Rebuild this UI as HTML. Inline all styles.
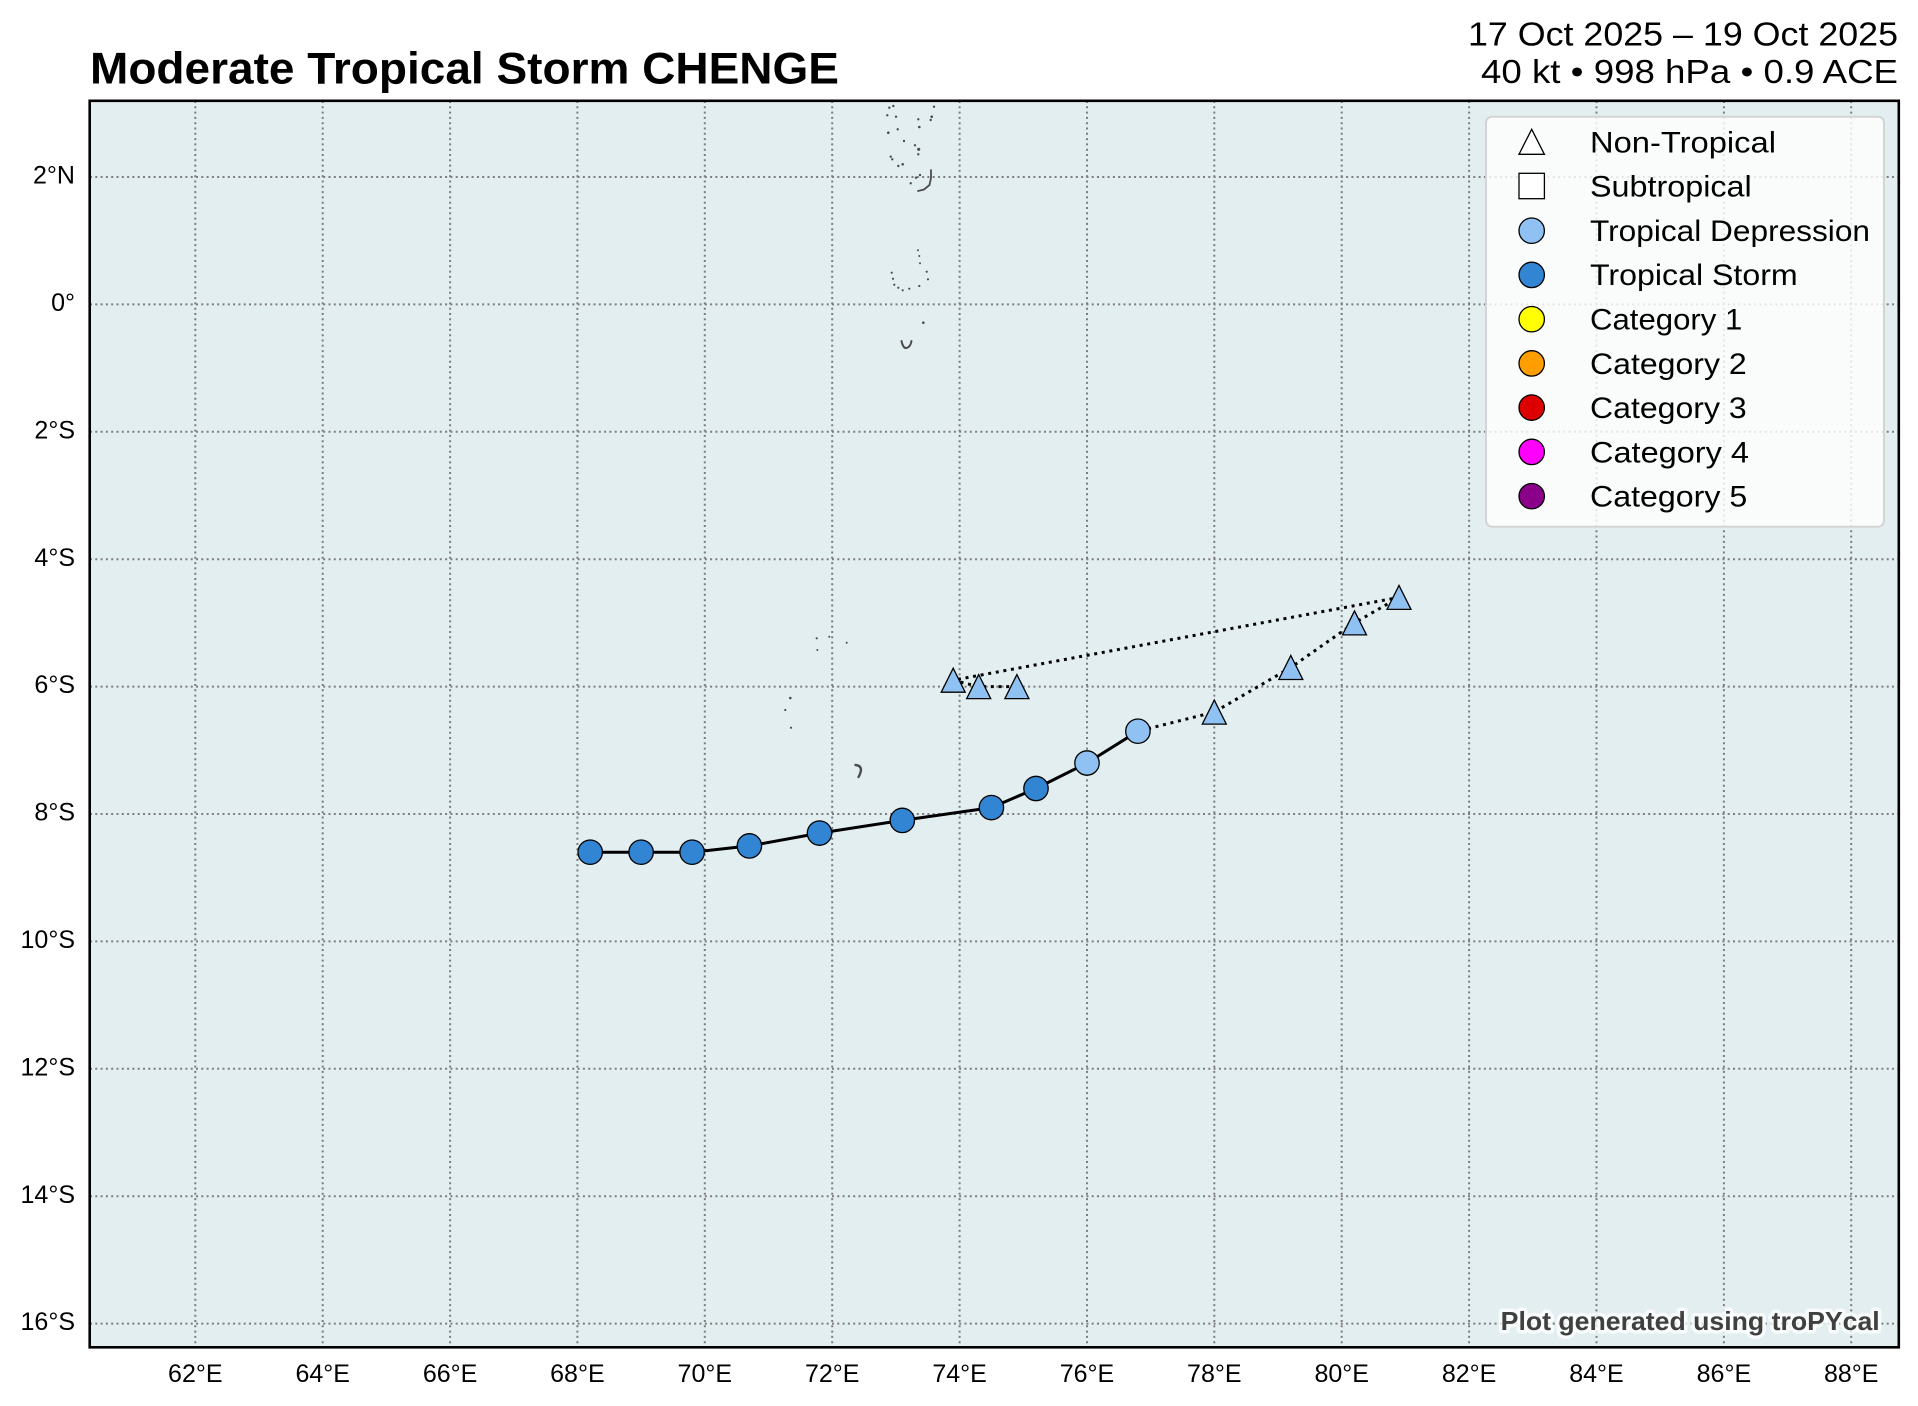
<!DOCTYPE html>
<html>
<head>
<meta charset="utf-8">
<style>
html,body{margin:0;padding:0;background:#ffffff;}
svg{display:block;}
text{font-family:"Liberation Sans","DejaVu Sans",sans-serif;}
</style>
</head>
<body>
<svg width="1918" height="1406" viewBox="0 0 1918 1406" xmlns="http://www.w3.org/2000/svg">
<rect x="0" y="0" width="1918" height="1406" fill="#ffffff"/>
<!-- titles -->
<text x="90" y="83.3" font-size="44.5" font-weight="bold" fill="#000" textLength="749" lengthAdjust="spacingAndGlyphs">Moderate Tropical Storm CHENGE</text>
<text x="1898" y="45.5" font-size="33.5" fill="#000" text-anchor="end" textLength="430" lengthAdjust="spacingAndGlyphs">17 Oct 2025 – 19 Oct 2025</text>
<text x="1898" y="83" font-size="33.5" fill="#000" text-anchor="end" textLength="417" lengthAdjust="spacingAndGlyphs">40 kt • 998 hPa • 0.9 ACE</text>

<!-- map background -->
<rect x="89.7" y="100.8" width="1809.1" height="1246.5" fill="#e3eef0"/>

<!-- gridlines -->
<g stroke="#7d7d7d" stroke-width="2" stroke-dasharray="2 3.3" fill="none">
<line x1="195.3" y1="101" x2="195.3" y2="1347"/>
<line x1="322.7" y1="101" x2="322.7" y2="1347"/>
<line x1="450.1" y1="101" x2="450.1" y2="1347"/>
<line x1="577.4" y1="101" x2="577.4" y2="1347"/>
<line x1="704.8" y1="101" x2="704.8" y2="1347"/>
<line x1="832.2" y1="101" x2="832.2" y2="1347"/>
<line x1="959.6" y1="101" x2="959.6" y2="1347"/>
<line x1="1087.0" y1="101" x2="1087.0" y2="1347"/>
<line x1="1214.3" y1="101" x2="1214.3" y2="1347"/>
<line x1="1341.7" y1="101" x2="1341.7" y2="1347"/>
<line x1="1469.1" y1="101" x2="1469.1" y2="1347"/>
<line x1="1596.5" y1="101" x2="1596.5" y2="1347"/>
<line x1="1723.9" y1="101" x2="1723.9" y2="1347"/>
<line x1="1851.2" y1="101" x2="1851.2" y2="1347"/>
<line x1="90" y1="177" x2="1899" y2="177"/>
<line x1="90" y1="304.4" x2="1899" y2="304.4"/>
<line x1="90" y1="431.8" x2="1899" y2="431.8"/>
<line x1="90" y1="559.2" x2="1899" y2="559.2"/>
<line x1="90" y1="686.6" x2="1899" y2="686.6"/>
<line x1="90" y1="814" x2="1899" y2="814"/>
<line x1="90" y1="941.4" x2="1899" y2="941.4"/>
<line x1="90" y1="1068.8" x2="1899" y2="1068.8"/>
<line x1="90" y1="1196.2" x2="1899" y2="1196.2"/>
<line x1="90" y1="1323.6" x2="1899" y2="1323.6"/>
</g>

<!-- islands -->
<g fill="#4d4d4d">
<circle cx="893.3" cy="106" r="1.2"/><circle cx="889.3" cy="107.7" r="1.2"/><circle cx="934" cy="106.7" r="1.2"/>
<circle cx="887.3" cy="115.3" r="1.2"/><circle cx="896" cy="116.7" r="1.2"/><circle cx="931.7" cy="116.7" r="1.3"/>
<circle cx="930.7" cy="120" r="1.2"/><circle cx="918.3" cy="119.3" r="1.2"/><circle cx="919.3" cy="127" r="1.3"/>
<circle cx="897.7" cy="129.3" r="1.2"/><circle cx="888.3" cy="132.7" r="1.3"/><circle cx="904" cy="141" r="1.2"/>
<circle cx="915" cy="145.3" r="1.2"/><circle cx="918.7" cy="149.3" r="1.6"/><circle cx="918.3" cy="154.3" r="1.2"/>
<circle cx="890.7" cy="156.7" r="1.2"/><circle cx="892.3" cy="159.3" r="1.2"/><circle cx="898.3" cy="166" r="1.2"/>
<circle cx="902.7" cy="164.3" r="1.3"/><circle cx="920" cy="175" r="1.2"/><circle cx="916" cy="177.7" r="1.2"/>
<circle cx="910.7" cy="183.3" r="1.2"/>
<circle cx="918" cy="250.3" r="1"/><circle cx="919.3" cy="256" r="1"/><circle cx="920" cy="263.3" r="1"/>
<circle cx="891.7" cy="272.7" r="1.1"/><circle cx="926.7" cy="271.7" r="1.1"/><circle cx="893" cy="278.7" r="1.1"/>
<circle cx="928" cy="279.3" r="1.1"/><circle cx="894.3" cy="284.7" r="1.1"/><circle cx="898.3" cy="287.7" r="1.1"/>
<circle cx="902.7" cy="290.3" r="1.1"/><circle cx="909.3" cy="288.7" r="1.1"/><circle cx="919.3" cy="286" r="1.1"/>
<circle cx="923.3" cy="322.7" r="1.3"/>
<circle cx="816.7" cy="638.3" r="1.1"/><circle cx="829.3" cy="636.7" r="1"/><circle cx="846.7" cy="642.7" r="1"/>
<circle cx="817.3" cy="650" r="1"/><circle cx="790.3" cy="698" r="1.3"/><circle cx="785.3" cy="710" r="1.1"/>
<circle cx="791" cy="727.7" r="1.1"/>
</g>
<g stroke="#4d4d4d" fill="none" stroke-linecap="round">
<path d="M931,170 L931,178 L929.5,185 L924,189.5 L918,191" stroke-width="1.8"/>
<path d="M901.5,341 Q903,348.5 906.5,348 Q910.5,347 911.5,341" stroke-width="2"/>
<path d="M855.5,765 Q861,765.5 861,770 Q860.5,774 858.5,777" stroke-width="2.4"/>
</g>

<!-- track lines -->
<polyline fill="none" stroke="#000" stroke-width="3" stroke-dasharray="3 4.7" points="1016.9,686.6 978.7,686.6 953.2,680.2 1399.0,597.4 1354.5,622.9 1290.8,667.5 1214.3,712.1 1137.9,731.2"/>
<polyline fill="none" stroke="#000" stroke-width="3" stroke-linejoin="round" points="1137.9,731.2 1087.0,763.0 1036.0,788.5 991.4,807.6 902.3,820.4 819.5,833.1 749.4,845.9 692.1,852.2 641.1,852.2 590.2,852.2"/>

<!-- markers -->
<g stroke="#000" stroke-width="1.3" fill="#8FC2F2" stroke-linejoin="miter">
<polygon points="1016.9,674.6 1004.9,698.6 1028.9,698.6"/>
<polygon points="978.7,674.6 966.7,698.6 990.7,698.6"/>
<polygon points="953.2,668.2 941.2,692.2 965.2,692.2"/>
<polygon points="1399.0,585.4 1387.0,609.4 1411.0,609.4"/>
<polygon points="1354.5,610.9 1342.5,634.9 1366.5,634.9"/>
<polygon points="1290.8,655.5 1278.8,679.5 1302.8,679.5"/>
<polygon points="1214.3,700.1 1202.3,724.1 1226.3,724.1"/>
<circle cx="1137.9" cy="731.2" r="12.2"/>
<circle cx="1087.0" cy="763.0" r="12.2"/>
</g>
<g stroke="#000" stroke-width="1.3" fill="#3185D3">
<circle cx="1036.0" cy="788.5" r="12.2"/>
<circle cx="991.4" cy="807.6" r="12.2"/>
<circle cx="902.3" cy="820.4" r="12.2"/>
<circle cx="819.5" cy="833.1" r="12.2"/>
<circle cx="749.4" cy="845.9" r="12.2"/>
<circle cx="692.1" cy="852.2" r="12.2"/>
<circle cx="641.1" cy="852.2" r="12.2"/>
<circle cx="590.2" cy="852.2" r="12.2"/>
</g>

<!-- legend -->
<rect x="1486" y="116.7" width="398" height="410" rx="6" ry="6" fill="#ffffff" fill-opacity="0.8" stroke="#d4d4d4" stroke-width="2"/>
<g stroke="#000" stroke-width="1.3">
<polygon points="1531.7,129.3 1519,154.3 1544.4,154.3" fill="#ffffff"/>
<rect x="1519" y="173.3" width="25.4" height="25.4" fill="#ffffff"/>
<circle cx="1531.7" cy="230.7" r="12.7" fill="#8FC2F2"/>
<circle cx="1531.7" cy="274.9" r="12.7" fill="#3185D3"/>
<circle cx="1531.7" cy="319.2" r="12.7" fill="#FFFF00"/>
<circle cx="1531.7" cy="363.4" r="12.7" fill="#FF9E00"/>
<circle cx="1531.7" cy="407.6" r="12.7" fill="#DD0000"/>
<circle cx="1531.7" cy="451.9" r="12.7" fill="#FF00FC"/>
<circle cx="1531.7" cy="496.2" r="12.7" fill="#8B0088"/>
</g>
<g font-size="29.5" fill="#000">
<text x="1590" y="152.3" textLength="186" lengthAdjust="spacingAndGlyphs">Non-Tropical</text>
<text x="1590" y="196.6" textLength="161.7" lengthAdjust="spacingAndGlyphs">Subtropical</text>
<text x="1590" y="240.9" textLength="280" lengthAdjust="spacingAndGlyphs">Tropical Depression</text>
<text x="1590" y="285.2" textLength="207.7" lengthAdjust="spacingAndGlyphs">Tropical Storm</text>
<text x="1590" y="329.5" textLength="152.3" lengthAdjust="spacingAndGlyphs">Category 1</text>
<text x="1590" y="373.8" textLength="156.7" lengthAdjust="spacingAndGlyphs">Category 2</text>
<text x="1590" y="418.1" textLength="156.7" lengthAdjust="spacingAndGlyphs">Category 3</text>
<text x="1590" y="462.4" textLength="159" lengthAdjust="spacingAndGlyphs">Category 4</text>
<text x="1590" y="506.7" textLength="157.3" lengthAdjust="spacingAndGlyphs">Category 5</text>
</g>

<!-- watermark -->
<text x="1500.7" y="1330" font-size="26" font-weight="bold" fill="#404040" stroke="#ffffff" stroke-opacity="0.75" stroke-width="7" stroke-linejoin="round" paint-order="stroke" textLength="379" lengthAdjust="spacingAndGlyphs">Plot generated using troPYcal</text>

<!-- frame -->
<rect x="89.7" y="100.8" width="1809.1" height="1246.5" fill="none" stroke="#000" stroke-width="2.6"/>

<!-- y tick labels -->
<g font-size="25" fill="#000" text-anchor="end">
<text x="75" y="183.6">2°N</text>
<text x="75" y="311">0°</text>
<text x="75" y="438.4">2°S</text>
<text x="75" y="565.8">4°S</text>
<text x="75" y="693.2">6°S</text>
<text x="75" y="820.6">8°S</text>
<text x="75" y="948">10°S</text>
<text x="75" y="1075.4">12°S</text>
<text x="75" y="1202.8">14°S</text>
<text x="75" y="1330.2">16°S</text>
</g>
<!-- x tick labels -->
<g font-size="25" fill="#000" text-anchor="middle">
<text x="195.3" y="1382">62°E</text>
<text x="322.7" y="1382">64°E</text>
<text x="450.1" y="1382">66°E</text>
<text x="577.4" y="1382">68°E</text>
<text x="704.8" y="1382">70°E</text>
<text x="832.2" y="1382">72°E</text>
<text x="959.6" y="1382">74°E</text>
<text x="1087.0" y="1382">76°E</text>
<text x="1214.3" y="1382">78°E</text>
<text x="1341.7" y="1382">80°E</text>
<text x="1469.1" y="1382">82°E</text>
<text x="1596.5" y="1382">84°E</text>
<text x="1723.9" y="1382">86°E</text>
<text x="1851.2" y="1382">88°E</text>
</g>
</svg>
</body>
</html>
